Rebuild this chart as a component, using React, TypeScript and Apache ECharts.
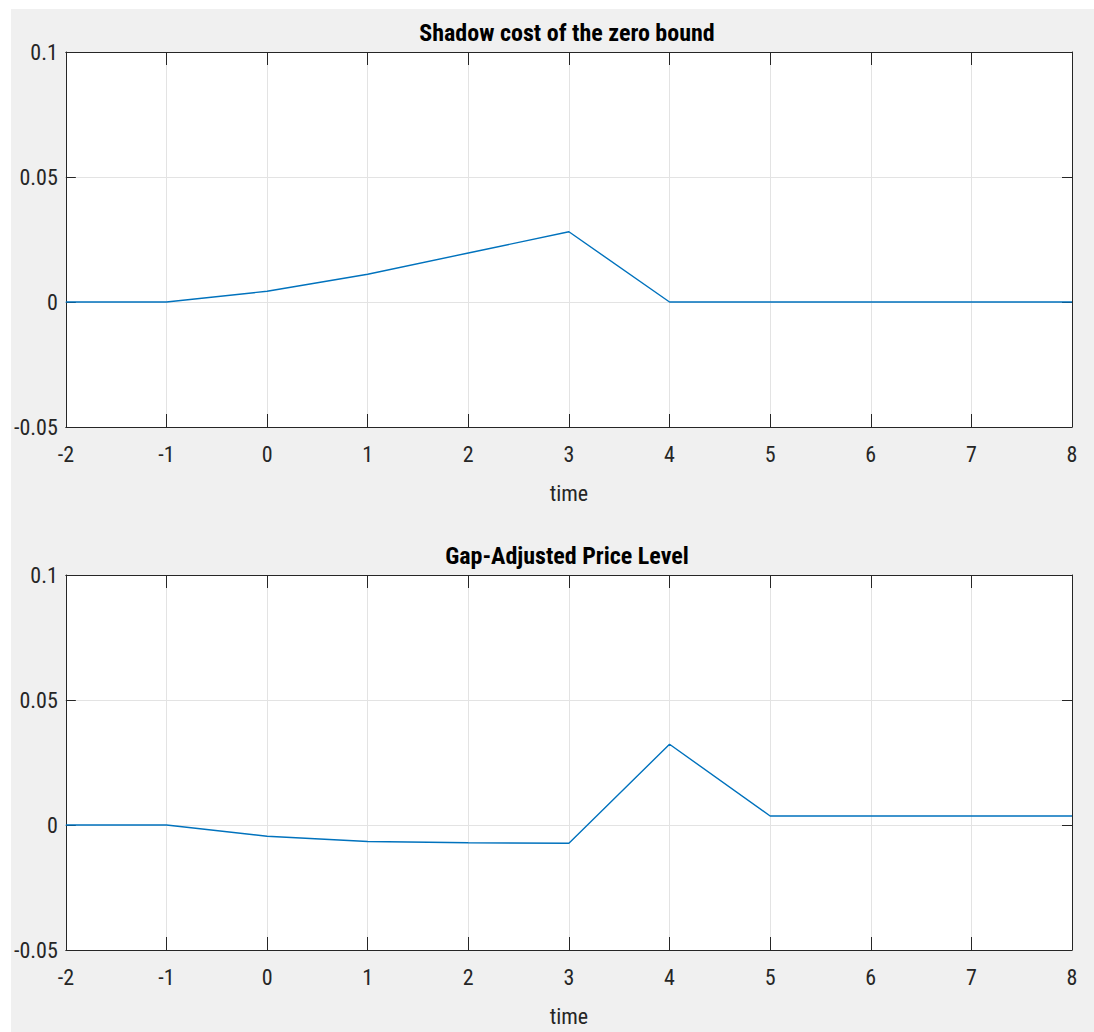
import React, { useEffect, useRef } from "react";
import * as echarts from "echarts";

const timeValues = [-2, -1, 0, 1, 2, 3, 4, 5, 6, 7, 8];
const shadowCost = [0, 0, 0.0043, 0.0111, 0.0196, 0.0281, 0, 0, 0, 0, 0];
const priceLevel = [0, 0, -0.0045, -0.0066, -0.0071, -0.0073, 0.0323, 0.0036, 0.0036, 0.0036, 0.0036];
const titles = ["Shadow cost of the zero bound", "Gap-Adjusted Price Level"];
const xName = "time";

const FONT = "'Liberation Sans Narrow', 'Roboto Condensed', 'Liberation Sans', Arial, sans-serif";
const AX = "#262626";

function fmtY(v: number) {
  const r = Math.round(v * 1000) / 1000;
  if (r === 0) return "0";
  return String(r);
}

export default function App() {
  const ref = useRef<HTMLDivElement>(null);
  useEffect(() => {
    document.body.style.margin = "0";
    const chart = echarts.init(ref.current!, null, { renderer: "svg" });
    const gridTops = [43, 566];
    const grids = gridTops.map((t) => ({
      left: 51,
      top: t,
      width: 1010,
      height: 375,
      show: true,
      backgroundColor: "#ffffff",
      borderWidth: 0,
      containLabel: false,
    }));
    const xAxes: any[] = [];
    const yAxes: any[] = [];
    [0, 1].forEach((i) => {
      const common = {
        type: "value",
        min: -2,
        max: 8,
        interval: 1,
        gridIndex: i,
        axisLine: { show: true, onZero: false, lineStyle: { color: AX, width: 1 } },
        axisTick: { show: true, inside: true, length: 13, lineStyle: { color: AX } },
      };
      xAxes.push({
        ...common,
        position: "bottom",
        name: xName,
        nameLocation: "middle",
        nameGap: 55,
        nameTextStyle: { fontFamily: FONT, fontSize: 22, color: AX },
        axisLabel: { show: true, margin: 16, fontFamily: FONT, fontSize: 22, color: AX },
        splitLine: { show: true, lineStyle: { color: "#e3e3e3", width: 1 } },
      });
      xAxes.push({
        ...common,
        position: "top",
        axisLabel: { show: false },
        splitLine: { show: false },
      });
      const ycommon = {
        type: "value",
        min: -0.05,
        max: 0.1,
        interval: 0.05,
        gridIndex: i,
        axisLine: { show: true, onZero: false, lineStyle: { color: AX, width: 1 } },
        axisTick: { show: true, inside: true, length: 10, lineStyle: { color: AX } },
      };
      yAxes.push({
        ...ycommon,
        position: "left",
        axisLabel: { show: true, margin: 8, fontFamily: FONT, fontSize: 22, color: AX, formatter: fmtY },
        splitLine: { show: true, lineStyle: { color: "#e3e3e3", width: 1 } },
      });
      yAxes.push({
        ...ycommon,
        position: "right",
        axisLabel: { show: false },
        splitLine: { show: false },
      });
    });
    const seriesData = [shadowCost, priceLevel];
    chart.setOption({
      animation: false,
      backgroundColor: "transparent",
      title: titles.map((t, i) => ({
        text: t,
        left: 551,
        top: i === 0 ? 7 : 530,
        textAlign: "center",
        textStyle: { fontFamily: FONT, fontSize: 24, fontWeight: "bold", color: "#000" },
      })),
      grid: grids,
      xAxis: xAxes,
      yAxis: yAxes,
      series: seriesData.map((d, i) => ({
        type: "line",
        xAxisIndex: i * 2,
        yAxisIndex: i * 2,
        data: timeValues.map((x, j) => [x, d[j]]),
        showSymbol: false,
        symbol: "none",
        lineStyle: { color: "#0072BD", width: 1.4 },
      })),
    });
    return () => chart.dispose();
  }, []);
  return (
    <div style={{ position: "absolute", left: 0, top: 0, width: 1094, height: 1032, background: "#ffffff" }}>
      <div style={{ position: "absolute", left: 11, top: 9, width: 1083, height: 1023, background: "#f0f0f0" }}>
        <div ref={ref} style={{ width: 1083, height: 1023 }} />
      </div>
    </div>
  );
}
